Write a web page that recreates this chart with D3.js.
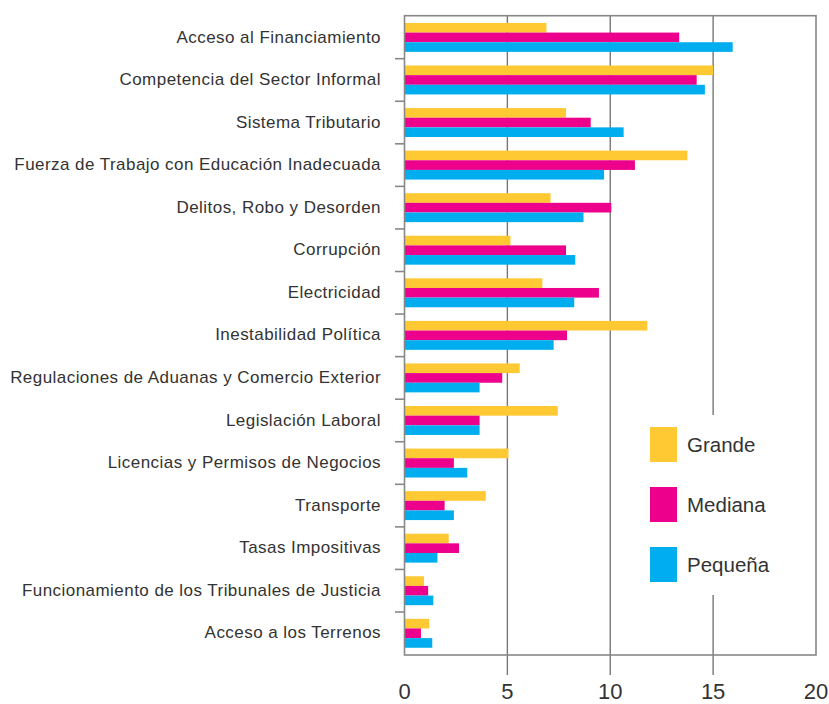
<!DOCTYPE html>
<html>
<head>
<meta charset="utf-8">
<script src="https://cdn.jsdelivr.net/npm/d3@7/dist/d3.min.js"></script>
<style>
  html, body { margin: 0; padding: 0; background: #fff; }
  svg { display: block; }
  text { font-family: "Liberation Sans", Arial, sans-serif; fill: #333; }
</style>
</head>
<body>
<svg id="chart" width="829" height="704"></svg>
<script>
const categories = [
  "Acceso al Financiamiento",
  "Competencia del Sector Informal",
  "Sistema Tributario",
  "Fuerza de Trabajo con Educación Inadecuada",
  "Delitos, Robo y Desorden",
  "Corrupción",
  "Electricidad",
  "Inestabilidad Política",
  "Regulaciones de Aduanas y Comercio Exterior",
  "Legislación Laboral",
  "Licencias y Permisos de Negocios",
  "Transporte",
  "Tasas Impositivas",
  "Funcionamiento de los Tribunales de Justicia",
  "Acceso a los Terrenos"
];
const seriesNames = ["Grande", "Mediana", "Pequeña"];
const grande  = [6.9, 15.0, 7.85, 13.75, 7.1, 5.15, 6.7, 11.8, 5.6, 7.45, 5.05, 3.95, 2.15, 0.95, 1.2];
const mediana = [13.35, 14.2, 9.05, 11.2, 10.05, 7.85, 9.45, 7.9, 4.75, 3.65, 2.4, 1.95, 2.65, 1.15, 0.8];
const pequena = [15.95, 14.6, 10.65, 9.7, 8.7, 8.3, 8.25, 7.25, 3.65, 3.65, 3.05, 2.4, 1.6, 1.4, 1.35];
const xTicks = [0, 5, 10, 15, 20];
const colors = ["#FFC933", "#EC008C", "#00AEEF"];

const seriesValues = [grande, mediana, pequena];
const data = categories.map((c, i) => ({
  cat: c,
  vals: seriesNames.map((s, j) => ({ s, v: seriesValues[j][i] }))
}));

const svg = d3.select("#chart");
const mLeft = 404.5, mRight = 816, mTop = 15.7, mBottom = 655;

const x = d3.scaleLinear().domain([0, 20]).range([mLeft, mRight]);
const y = d3.scaleBand().domain(categories).range([mTop, mBottom])
  .paddingInner(0.32).paddingOuter(0.17);
const yInner = d3.scaleBand().domain(seriesNames).range([0, y.bandwidth()]).padding(0);
const color = d3.scaleOrdinal().domain(seriesNames).range(colors);

// gridlines (extend below frame)
svg.append("g").selectAll("line").data(xTicks.slice(1, 4)).join("line")
  .attr("x1", d => x(d)).attr("x2", d => x(d))
  .attr("y1", mTop).attr("y2", 675)
  .attr("stroke", "#777").attr("stroke-width", 1.4);

// legend background hides gridline
svg.append("rect").attr("x", 640).attr("y", 415).attr("width", 170).attr("height", 180).attr("fill", "#fff");

// bars
const groups = svg.append("g").selectAll("g").data(data).join("g")
  .attr("transform", d => `translate(0,${y(d.cat)})`);
groups.selectAll("rect").data(d => d.vals).join("rect")
  .attr("x", x(0))
  .attr("y", d => yInner(d.s))
  .attr("width", d => x(d.v) - x(0))
  .attr("height", yInner.bandwidth())
  .attr("fill", d => color(d.s));

// frame
svg.append("rect").attr("x", mLeft).attr("y", mTop)
  .attr("width", mRight - mLeft).attr("height", mBottom - mTop)
  .attr("fill", "none").attr("stroke", "#888").attr("stroke-width", 1.6);

// left tick marks at category boundaries
const bounds = categories.slice(1).map(c => y(c) - y.step() * y.paddingInner() / 2);
svg.append("g").selectAll("line").data(bounds).join("line")
  .attr("x1", 395).attr("x2", mLeft)
  .attr("y1", d => d).attr("y2", d => d)
  .attr("stroke", "#888").attr("stroke-width", 1.6);

// category labels
svg.append("g").selectAll("text").data(categories).join("text")
  .attr("x", 381)
  .attr("y", d => y(d) + y.bandwidth() / 2)
  .attr("dy", "0.3em")
  .attr("text-anchor", "end")
  .style("font-size", "17px")
  .style("letter-spacing", "0.45px")
  .text(d => d);

// x tick labels
svg.append("g").selectAll("text").data(xTicks).join("text")
  .attr("x", d => x(d))
  .attr("y", 699)
  .attr("text-anchor", "middle")
  .style("font-size", "22px")
  .text(d => d);

// legend
const legend = svg.append("g").selectAll("g").data(seriesNames).join("g")
  .attr("transform", (d, i) => `translate(650,${427 + i * 60})`);
legend.append("rect").attr("width", 27).attr("height", 35).attr("fill", d => color(d));
legend.append("text").attr("x", 37).attr("y", 17.5).attr("dy", "0.35em")
  .style("font-size", "20.5px").text(d => d);
</script>
</body>
</html>
